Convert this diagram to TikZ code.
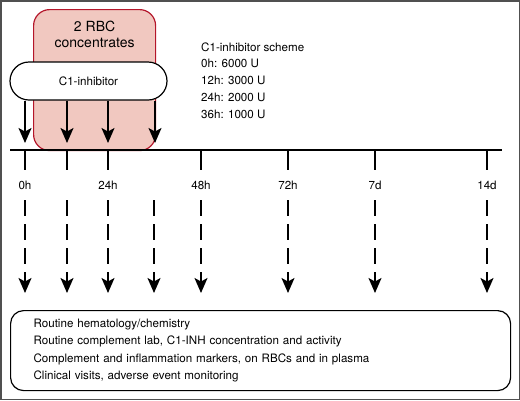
\documentclass[tikz,border=0pt]{standalone}
\usepackage{fontspec}
\setmainfont{TeX Gyre Heros}
\usetikzlibrary{arrows.meta, positioning}
\definecolor{rbcpink}{RGB}{241,200,192}
\definecolor{rbcred}{RGB}{180,22,42}
\definecolor{framegray}{RGB}{80,80,80}

\begin{document}
\begin{tikzpicture}[
    x=1pt, y=-1pt,
    font=\fontsize{11.6}{13}\selectfont,
    rbcbox/.style={rectangle, rounded corners=16pt, draw=rbcred, fill=rbcpink, line width=1.2pt, minimum width=122pt, minimum height=141pt},
    pill/.style={rectangle, rounded corners=19pt, draw, fill=white, line width=1.2pt, minimum width=157pt, minimum height=38pt},
    panel/.style={rectangle, rounded corners=13pt, draw, line width=1.2pt, align=left, text width=454pt, inner xsep=23pt, minimum height=80pt},
    arrow/.style={-{Stealth[length=15pt, width=13pt, inset=3.5pt]}, line width=1.6pt},
    dasharrow/.style={arrow, dash pattern=on 16pt off 8pt},
    tick/.style={line width=1.5pt}
]
\useasboundingbox (0,0) rectangle (520,400);
\draw[framegray, line width=1.5pt] (0.75,0.75) rectangle (519.25,399.25);

% transfusion window
\node[rbcbox, anchor=north west] (rbc) at (33,9) {};
\node[font=\fontsize{14}{16}\selectfont, align=center, below=9pt of rbc.north] (rbctext) {2 RBC\\concentrates};
\node[pill] (inh) at (88.5,81) {C1-inhibitor};

\node[anchor=west, align=left, inner sep=0pt, font=\fontsize{11.6}{16.8}\selectfont] (scheme) at (201,80.5)
    {C1-inhibitor scheme\\0h: 6000 U\\12h: 3000 U\\24h: 2000 U\\36h: 1000 U};

% time axis
\coordinate (axisL) at (10,150);
\coordinate (axisR) at (502,150);
\draw[line width=1.3pt] (axisL) -- (axisR);
\foreach \x/\lab/\nm in {25/0h/t0, 67//t12, 108/24h/t24, 201/48h/t48, 288/72h/t72, 375/7d/t7d, 487/14d/t14d} {
    \draw[tick] (\x,150) -- (\x,170);
    \node (\nm) at (\x,185) {\lab};
}

% doses
\foreach \x/\nm in {25/d0, 67/d12, 108/d24, 155/d36} {
    \coordinate (\nm) at (\x,143);
    \draw[arrow] (inh.south -| \nm) -- (\nm);
}

% sampling
\node[panel, anchor=north west, font=\fontsize{11.6}{17.6}\selectfont] (lab) at (10,310)
    {Routine hematology/chemistry\\Routine complement lab, C1-INH concentration and activity\\Complement and inflammation markers, on RBCs and in plasma\\Clinical visits, adverse event monitoring};
\foreach \x/\nm in {25/s0, 67/s12, 108/s24, 154/s36, 201/s48, 288/s72, 375/s7d, 487/s14d} {
    \coordinate (\nm a) at (\x,200);
    \coordinate (\nm b) at (\x,293);
    \draw[dasharrow] (\nm a) -- (\nm b);
}
\end{tikzpicture}
\end{document}
